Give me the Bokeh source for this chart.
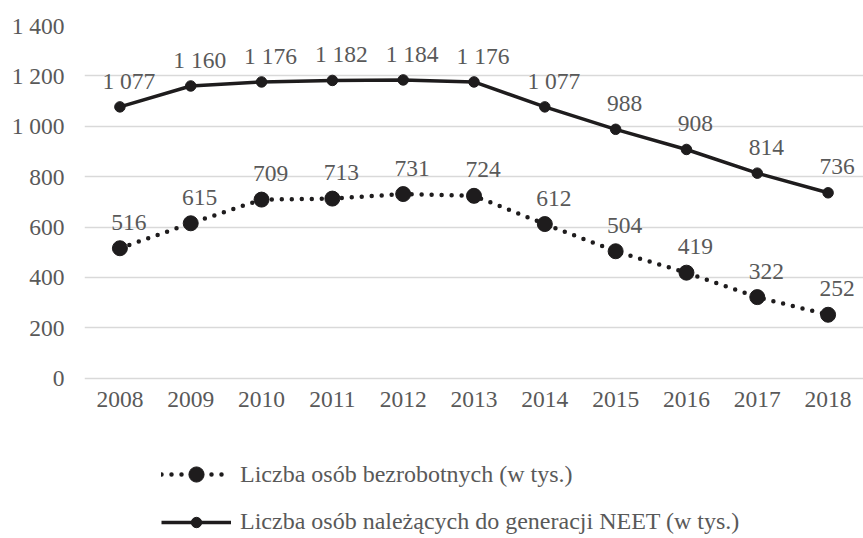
from bokeh.plotting import figure
from bokeh.models import Range1d, FixedTicker, Legend, LegendItem, ColumnDataSource
from bokeh.core.properties import value
from bokeh.embed import file_html
from bokeh.resources import INLINE

years = [2008, 2009, 2010, 2011, 2012, 2013, 2014, 2015, 2016, 2017, 2018]
bezrobotni = [516, 615, 709, 713, 731, 724, 612, 504, 419, 322, 252]
neet = [1077, 1160, 1176, 1182, 1184, 1176, 1077, 988, 908, 814, 736]
y_ticks = [0, 200, 400, 600, 800, 1000, 1200, 1400]
y_tick_labels = ["0", "200", "400", "600", "800", "1 000", "1 200", "1 400"]
name_bezrobotni = "Liczba osób bezrobotnych (w tys.)"
name_neet = "Liczba osób należących do generacji NEET (w tys.)"

FONT = "'Liberation Serif', 'Times New Roman', serif"
FS = "23.5px"
TXT = "#595959"
INK = "#1e1c1d"


def fmt(v):
    return f"{v:,}".replace(",", " ")


src_b = ColumnDataSource(dict(x=years, y=bezrobotni, lab=[fmt(v) for v in bezrobotni]))
src_n = ColumnDataSource(dict(x=years, y=neet, lab=[fmt(v) for v in neet]))

# frame spans down to the bottom of the figure; x axis is pinned at y=0
p = figure(width=863, height=538, output_backend="svg", toolbar_location=None,
           x_range=Range1d(2007.5, 2018.5), y_range=Range1d(-636, 1400),
           min_border_left=84, min_border_right=0, min_border_top=25, min_border_bottom=0)
p.outline_line_color = None
p.background_fill_color = "white"
p.border_fill_color = "white"

p.xgrid.grid_line_color = None
p.ygrid.grid_line_color = "#d9d9d9"
p.ygrid.grid_line_width = 1.5

p.yaxis.ticker = FixedTicker(ticks=y_ticks)
p.yaxis.major_label_overrides = {t: l for t, l in zip(y_ticks, y_tick_labels)}
p.xaxis.ticker = FixedTicker(ticks=years)
p.xaxis.major_label_overrides = {y: str(y) for y in years}
p.xaxis.fixed_location = 0
for ax in (p.xaxis, p.yaxis):
    ax.axis_line_color = None
    ax.major_tick_line_color = None
    ax.minor_tick_line_color = None
    ax.major_tick_out = 0
    ax.major_tick_in = 0
    ax.major_label_text_font = FONT
    ax.major_label_text_font_size = FS
    ax.major_label_text_color = TXT
p.yaxis.major_label_standoff = 20
p.xaxis.major_label_standoff = 14

# series
lb = p.line("x", "y", source=src_b, line_color=INK, line_width=4.5,
            line_dash="0 10", line_cap="round")
sb = p.scatter("x", "y", source=src_b, size=15, fill_color=INK, line_color=INK)
ln = p.line("x", "y", source=src_n, line_color=INK, line_width=3.5)
sn = p.scatter("x", "y", source=src_n, size=10.5, fill_color=INK, line_color=INK)

# data labels
for src in (src_b, src_n):
    p.text("x", "y", text="lab", source=src, x_offset=9, y_offset=-26,
           text_font=value(FONT), text_font_size=FS, text_color=TXT,
           text_align="center", text_baseline="middle")


def make_legend(item, gh, loc):
    return Legend(items=[item], location=loc, orientation="vertical",
                  glyph_width=70, glyph_height=gh, label_standoff=9,
                  padding=0, margin=0, spacing=0,
                  border_line_alpha=0, background_fill_alpha=0,
                  label_text_font=FONT, label_text_font_size="24px",
                  label_text_color=TXT)


p.add_layout(make_legend(LegendItem(label=name_bezrobotni, renderers=[lb, sb]), 38, (77, 45)))
p.add_layout(make_legend(LegendItem(label=name_neet, renderers=[ln, sn]), 26, (77, 3)))

open("out.html", "w").write(file_html(p, INLINE))
